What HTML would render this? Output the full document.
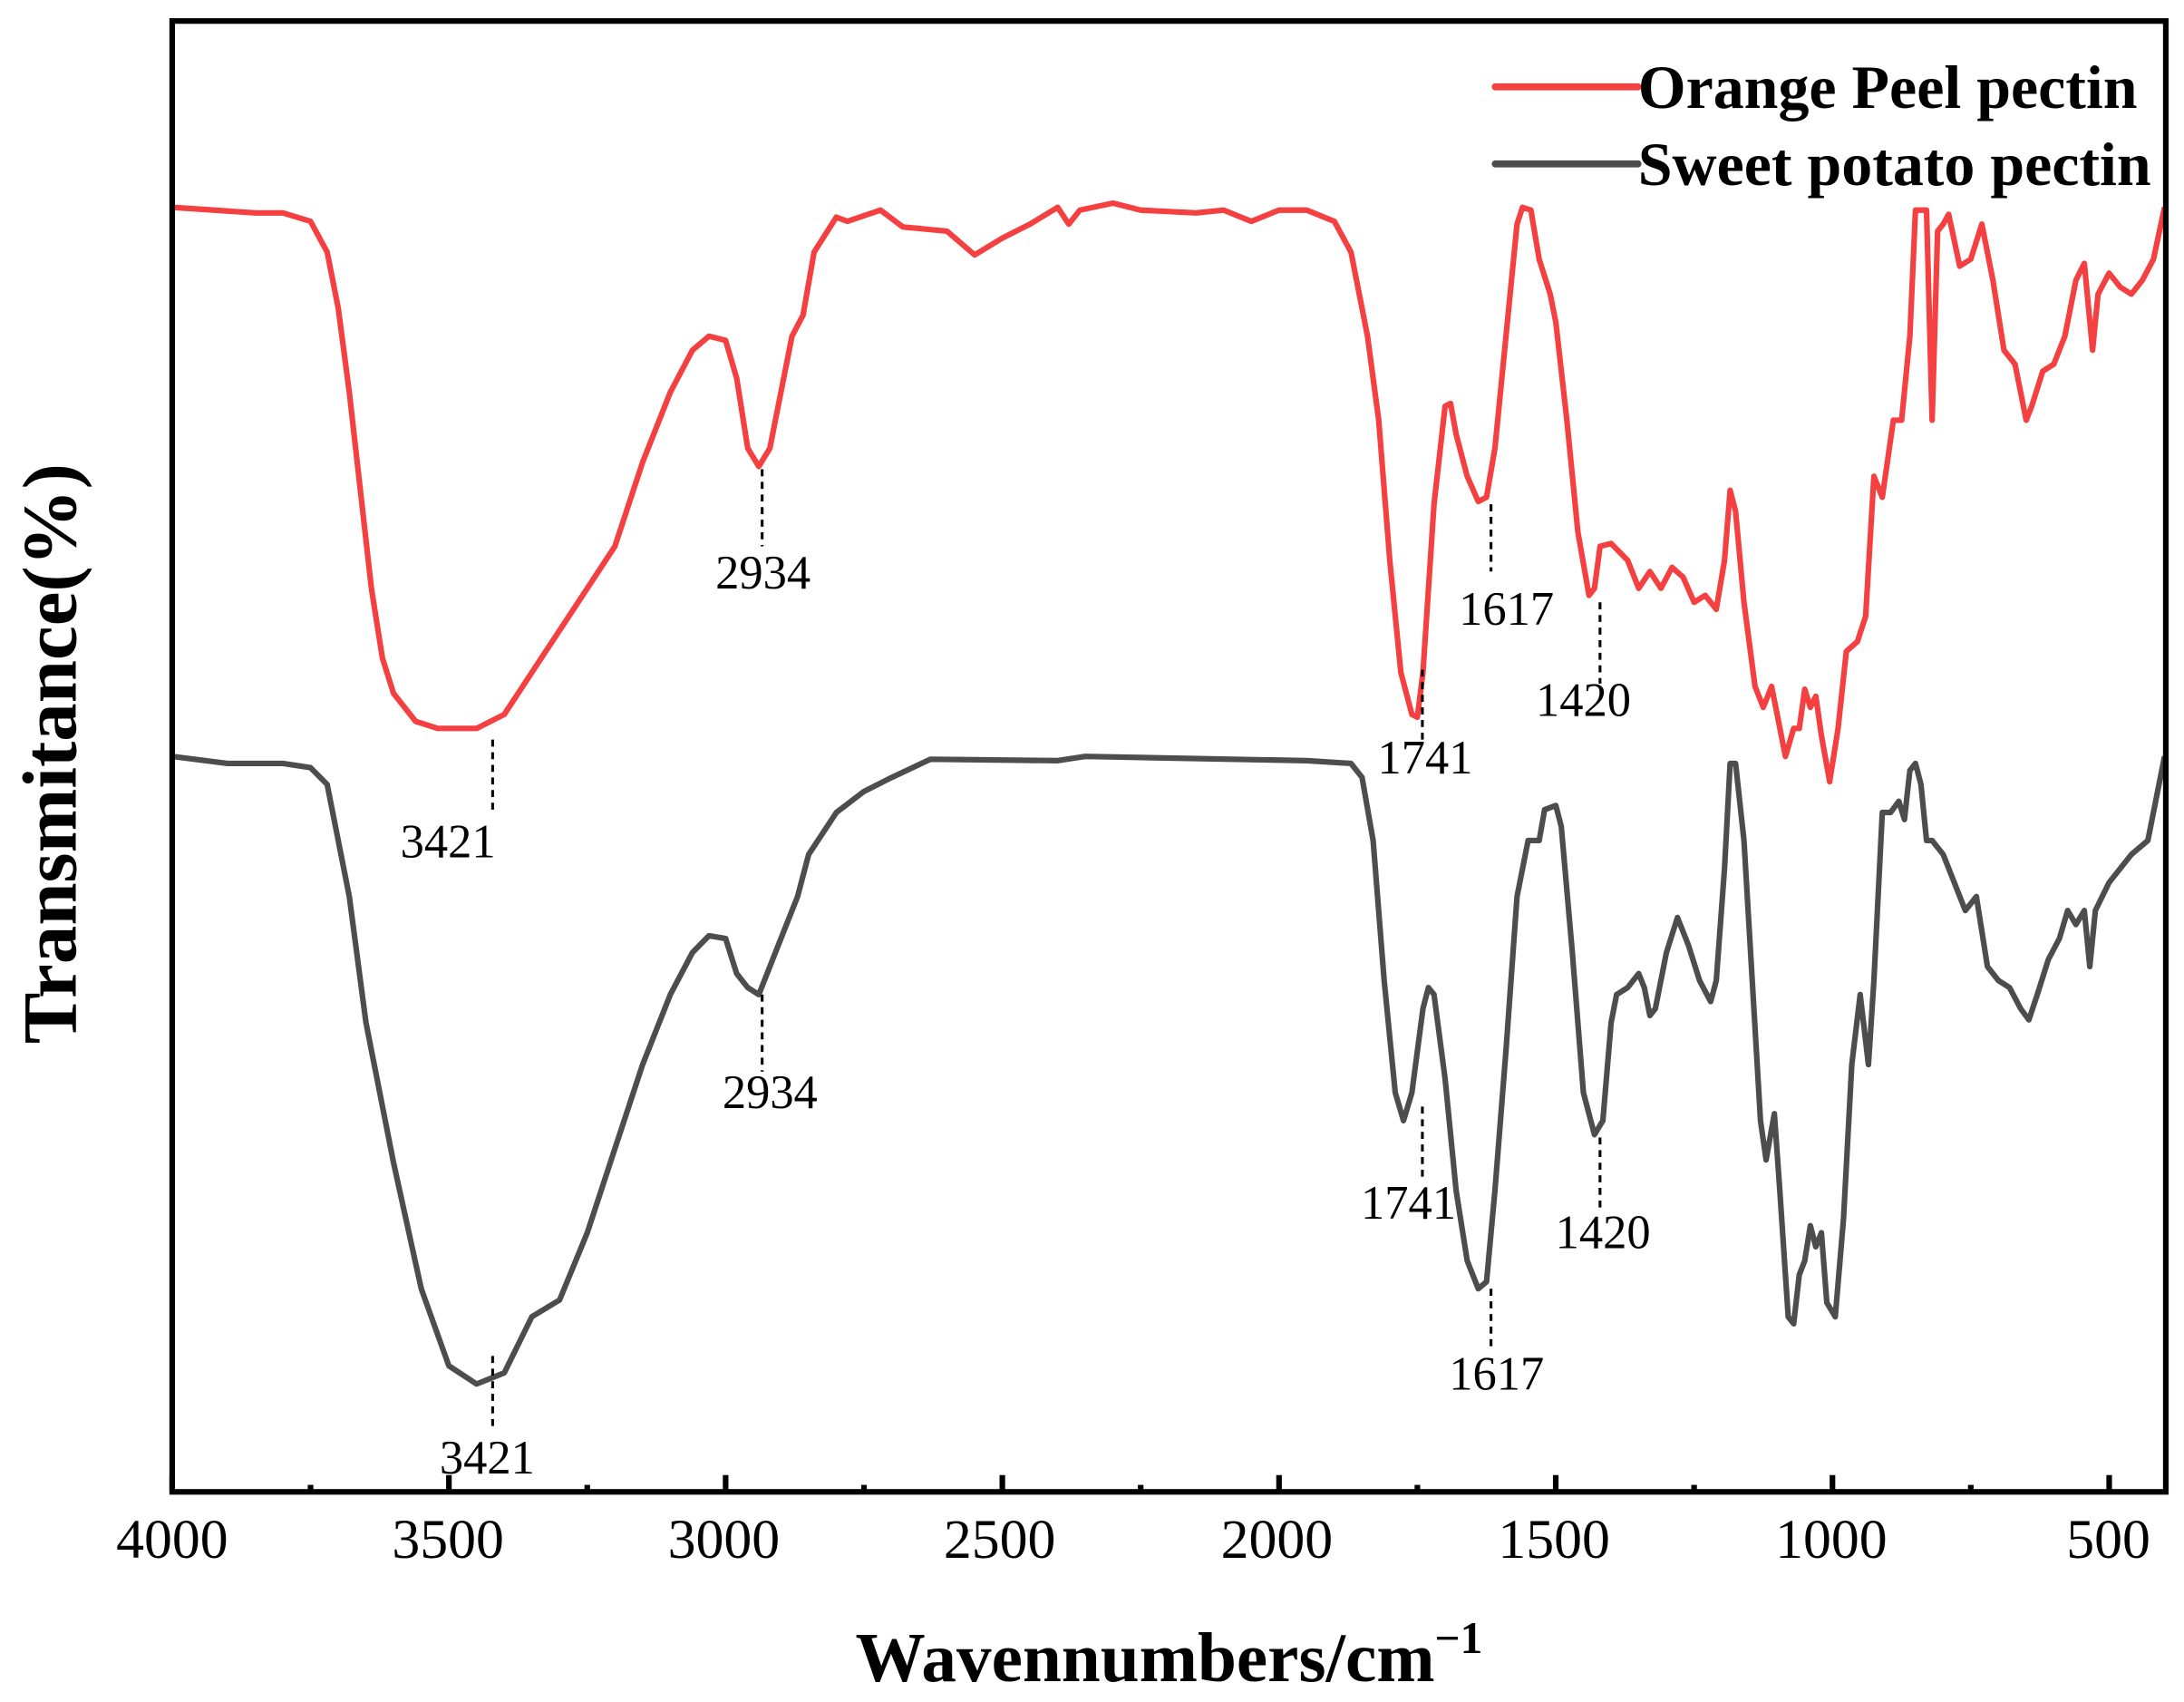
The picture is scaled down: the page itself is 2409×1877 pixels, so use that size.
<!DOCTYPE html>
<html><head><meta charset="utf-8"><style>
html,body{margin:0;padding:0;background:#fff;}
svg{display:block;}
text{font-family:"Liberation Serif",serif;}
</style></head><body>
<svg id="s" width="2409" height="1877" viewBox="0 0 1560 1215" preserveAspectRatio="none" xmlns="http://www.w3.org/2000/svg">
<rect width="1560" height="1215" fill="#fff"/>
<g id="curves"></g>
<g id="ann" stroke="#000" stroke-width="2" stroke-dasharray="5,4"></g>
<g font-size="34" text-anchor="middle" fill="#000">
<text x="545" y="420">2934</text>
<text x="320" y="612">3421</text>
<text x="1018" y="552">1741</text>
<text x="1076" y="446">1617</text>
<text x="1131" y="511">1420</text>
<text x="550" y="791">2934</text>
<text x="348" y="1052">3421</text>
<text x="1006" y="870">1741</text>
<text x="1069" y="992">1617</text>
<text x="1145" y="891">1420</text>
</g>
<rect x="123" y="15" width="1424" height="1050" fill="none" stroke="#000" stroke-width="4"/>
<g id="ticks" stroke="#000" stroke-width="4"></g>
<g font-size="40" text-anchor="middle" fill="#000">
<text x="123" y="1112">4000</text>
<text x="320" y="1112">3500</text>
<text x="517" y="1112">3000</text>
<text x="714" y="1112">2500</text>
<text x="912" y="1112">2000</text>
<text x="1110" y="1112">1500</text>
<text x="1308" y="1112">1000</text>
<text x="1506" y="1112">500</text>
</g>
<text x="835" y="1200" font-size="50" font-weight="bold" text-anchor="middle">Wavennumbers/cm<tspan font-size="32" dy="-20">−1</tspan></text>
<text transform="translate(54,538) rotate(-90)" font-size="55" font-weight="bold" text-anchor="middle">Transmitance(%)</text>
<line x1="1068" y1="62" x2="1170" y2="62" stroke="#f44040" stroke-width="5" stroke-linecap="round"/>
<line x1="1068" y1="117" x2="1170" y2="117" stroke="#4d4d4d" stroke-width="5" stroke-linecap="round"/>
<text x="1170" y="77" font-size="44" font-weight="bold">Orange Peel pectin</text>
<text x="1170" y="132" font-size="44" font-weight="bold">Sweet potato pectin</text>
</svg>
<script>
function X(w){return 123+(4000-w)*0.3953;}
var red=[4000,148,3850,152,3800,152,3750,158,3720,180,3700,220,3680,280,3660,350,3640,420,3620,470,3600,495,3560,515,3520,520,3450,520,3400,510,3350,480,3300,450,3250,420,3200,390,3150,330,3100,280,3060,250,3030,240,3000,243,2980,270,2960,320,2940,333,2920,320,2900,280,2880,240,2860,225,2840,180,2800,155,2780,158,2720,150,2680,162,2600,165,2550,182,2500,170,2450,160,2400,148,2380,160,2360,150,2300,145,2250,150,2150,152,2100,150,2050,158,2000,150,1950,150,1900,158,1870,180,1840,240,1820,300,1800,400,1780,480,1760,510,1750,512,1740,480,1720,360,1700,290,1690,288,1680,310,1660,340,1640,358,1625,355,1610,320,1590,240,1570,160,1560,148,1545,150,1530,185,1510,210,1500,230,1480,300,1460,380,1440,425,1430,420,1420,390,1400,388,1370,400,1350,420,1330,408,1310,420,1290,405,1270,412,1250,430,1230,425,1210,435,1195,400,1185,350,1175,365,1160,430,1140,490,1125,505,1110,490,1100,510,1085,540,1070,520,1060,520,1050,492,1040,505,1030,497,1020,525,1005,558,990,520,975,465,955,458,940,440,925,340,910,355,890,300,875,300,860,240,850,150,840,150,830,150,820,300,810,165,800,160,790,153,770,190,750,185,730,160,710,200,690,250,670,260,650,300,640,290,620,265,600,260,580,240,560,200,545,188,530,250,520,210,500,195,480,205,460,210,440,200,420,185,400,148];
var gray=[4000,540,3900,545,3800,545,3750,548,3720,560,3700,600,3680,640,3650,730,3600,830,3550,920,3500,975,3450,988,3400,980,3350,940,3300,928,3250,880,3200,820,3150,760,3100,710,3060,680,3030,668,3000,670,2980,695,2960,705,2940,710,2920,690,2900,670,2870,640,2850,610,2800,580,2750,565,2700,555,2630,542,2400,543,2350,540,1950,543,1870,545,1850,555,1830,600,1810,700,1790,780,1775,800,1760,780,1740,720,1730,705,1720,710,1700,770,1680,850,1660,900,1640,920,1625,915,1610,850,1590,750,1570,640,1550,600,1530,600,1520,578,1500,575,1490,590,1470,680,1450,780,1430,810,1415,800,1400,730,1390,710,1370,705,1350,695,1340,705,1330,725,1320,720,1300,680,1280,655,1260,675,1240,700,1220,715,1210,700,1195,620,1185,545,1175,545,1160,600,1145,700,1130,800,1120,828,1105,795,1095,850,1080,940,1070,945,1060,910,1050,900,1040,875,1030,890,1020,880,1010,930,995,940,980,870,965,760,950,710,935,760,925,700,910,580,895,580,880,572,870,585,860,550,850,545,840,560,830,600,820,600,800,610,780,630,760,650,740,640,720,690,700,700,680,705,660,720,645,728,630,710,610,685,590,670,575,650,560,660,545,650,535,690,525,650,500,630,460,610,430,600,400,540];
function pl(a,c){var p=[];for(var i=0;i<a.length;i+=2)p.push(X(a[i]).toFixed(1)+','+a[i+1]);
return '<polyline fill="none" stroke="'+c+'" stroke-width="4" stroke-linejoin="round" points="'+p.join(' ')+'"/>';}
document.getElementById('curves').innerHTML=pl(gray,'#4d4d4d')+pl(red,'#f44040');
var an=[[2934,335,390],[3421,528,580],[1741,478,530],[1617,360,408],[1420,430,488],[2934,710,765],[3421,968,1022],[1741,790,840],[1617,920,962],[1420,812,866]];
var s='';an.forEach(function(a){var x=X(a[0]);s+='<line x1="'+x+'" y1="'+a[1]+'" x2="'+x+'" y2="'+a[2]+'"/>';});
document.getElementById('ann').innerHTML=s;
var t='';for(var w=4000;w>=500;w-=250){var x=X(w);var L=(w%500==0)?12:5;t+='<line x1="'+x+'" y1="1065" x2="'+x+'" y2="'+(1065-L)+'"/>';}
document.getElementById('ticks').innerHTML=t;
</script>
</body></html>
